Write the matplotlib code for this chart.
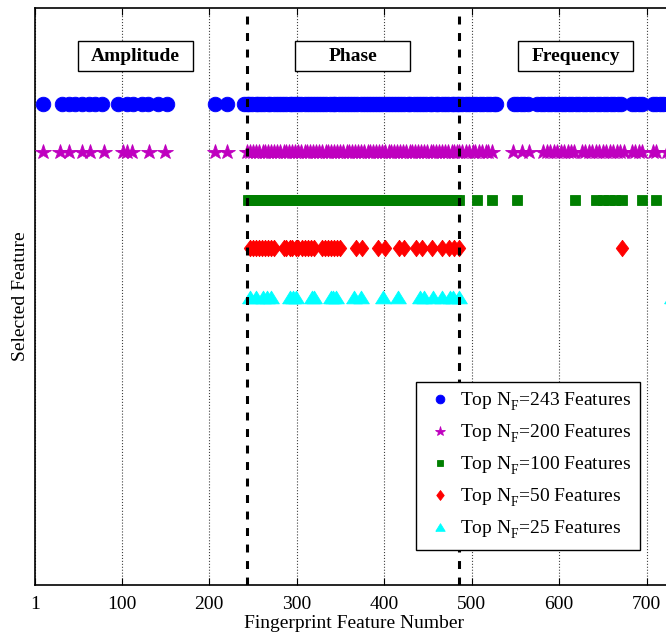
import numpy as np
import matplotlib.pyplot as plt
import matplotlib._mathtext as mathtext_impl
from matplotlib.patches import Rectangle

plt.rcParams['font.family'] = ['Liberation Serif', 'DejaVu Serif']
plt.rcParams['mathtext.fontset'] = 'custom'
plt.rcParams['mathtext.rm'] = 'Liberation Serif'
plt.rcParams['mathtext.it'] = 'Liberation Serif:italic'
# indice F plus bas, comme dans la figure d'origine
mathtext_impl.FontConstantsBase.sub1 = 0.6

# Indices des features selectionnees
top243 = [10, 32, 40, 47, 55, 63, 70, 78, 96, 106, 113, 123, 130, 141, 152, 207, 220, 240, 243,
          246, 249, 253, 256, 259, 263, 267, 270, 274, 277, 281, 284, 288, 292, 295, 298, 302, 305,
          309, 313, 316, 320, 323, 327, 330, 334, 338, 341, 344, 348, 352, 355, 359, 362, 366, 369,
          373, 377, 380, 384, 387, 391, 394, 398, 402, 405, 409, 412, 416, 419, 423, 427, 430, 434,
          437, 441, 444, 448, 452, 455, 459, 462, 466, 469, 473, 477, 480, 483, 486,
          489, 493, 497, 501, 505, 509, 513, 517, 521, 525, 528, 548, 552, 556, 560, 564, 575, 579,
          583, 587, 591, 595, 599, 603, 607, 611, 615, 619, 623, 627, 631, 635, 639, 643, 647, 651,
          655, 659, 663, 667, 671, 683, 687, 691, 695, 707, 711, 715, 719, 723, 727]
top200 = [10, 30, 40, 55, 64, 80, 102, 106, 112, 131, 150, 207, 220, 243,
          247, 250, 254, 257, 261, 264, 267, 271, 274, 278, 281, 285, 288, 291, 295, 298, 302, 305,
          309, 312, 315, 319, 322, 326, 329, 333, 336, 339, 343, 346, 350, 353, 357, 360, 363, 367,
          370, 374, 377, 381, 384, 387, 391, 394, 398, 401, 405, 408, 411, 415, 418, 422, 425, 429,
          432, 435, 439, 442, 446, 449, 453, 456, 459, 463, 466, 470, 473, 477, 480, 483, 486,
          489, 493, 497, 501, 504, 508, 512, 516, 519, 523, 547, 557, 566, 582, 586, 590, 594, 598,
          602, 606, 610, 614, 617, 626, 630, 634, 638, 642, 646, 650, 654, 658, 662, 666, 670, 674,
          683, 687, 691, 695, 707, 711, 723, 727]
top100 = [244, 248, 252, 255, 259, 263, 267, 270, 274, 278, 282, 286, 289, 293, 297, 301, 304, 308,
          312, 316, 320, 323, 327, 331, 335, 338, 342, 346, 350, 354, 357, 361, 365, 369, 372, 376,
          380, 384, 388, 391, 395, 399, 403, 406, 410, 414, 418, 422, 425, 429, 433, 437, 440, 444,
          448, 452, 456, 459, 463, 467, 471, 474, 478, 482, 486,
          506, 523, 552, 618, 642, 650, 657, 664, 672, 695, 711]
top50 = [247, 250, 253, 257, 260, 264, 267, 271, 274, 285, 288, 292, 295, 299, 302, 306, 309, 313,
         316, 320, 329, 332, 336, 339, 343, 346, 350, 368, 375, 393, 401, 417, 423, 436, 443, 455,
         466, 474, 480, 485, 672]
top25 = [247, 254, 262, 266, 271, 292, 296, 299, 317, 320, 339, 342, 345, 366, 373, 399, 416,
         441, 446, 456, 466, 475, 479, 486, 729]

series = [top243, top200, top100, top50, top25]
labels = ['Top $\\rm N_F$=243 Features', 'Top $\\rm N_F$=200 Features',
          'Top $\\rm N_F$=100 Features', 'Top $\\rm N_F$=50 Features',
          'Top $\\rm N_F$=25 Features']
xticks = [1, 100, 200, 300, 400, 500, 600, 700]
regions = ['Amplitude', 'Phase', 'Frequency']
region_centers = [116, 364, 619]
boundaries = [243, 486]

# Styles des marqueurs (facon MATLAB)
diamond = [(0, 1), (0.76, 0), (0, -1), (-0.76, 0), (0, 1)]
triangle = [(-1, -0.81), (1, -0.81), (0, 0.81), (-1, -0.81)]
styles = [dict(marker='o', color='#0000ff', ms=10.5),
          dict(marker='*', color='#bf00bf', ms=11.5),
          dict(marker='s', color='#007f00', ms=7.6),
          dict(marker=diamond, color='#ff0000', ms=11.8),
          dict(marker=triangle, color='#00ffff', ms=11.3)]

fig = plt.figure(figsize=(6.66, 6.35), dpi=100)
ax = fig.add_axes([35 / 666, 50 / 635, 637 / 666, 577 / 635])

for i, (xs, lab, st) in enumerate(zip(series, labels, styles)):
    y = np.full(len(xs), 10 - i)
    ax.plot(xs, y, linestyle='none', marker=st['marker'], ms=st['ms'],
            color=st['color'], mec=st['color'], mew=0.6, label=lab, zorder=3)

# Lignes de separation entre les regions
for b in boundaries:
    ax.axvline(b, color='black', lw=2.2, linestyle=(0, (2.6, 2.8)), zorder=5)

# Boites des noms de region
for name, c in zip(regions, region_centers):
    ax.add_patch(Rectangle((c - 65.5, 10.69), 131, 0.63, facecolor='white',
                           edgecolor='black', lw=1, zorder=4))
    ax.text(c, 11.0, name, ha='center', va='center', fontsize=14,
            fontweight='bold', zorder=6)

ax.set_xlim(1, 729)
ax.set_ylim(0, 12)
ax.set_xticks(xticks)
ax.set_xticklabels([str(t) for t in xticks], fontsize=14)
ax.set_yticks([])
ax.tick_params(axis='x', direction='in', length=5, top=True, pad=8)
ax.grid(axis='x', linestyle=':', color='#404040', lw=0.8)
ax.set_axisbelow(True)
for s in ax.spines.values():
    s.set_linewidth(1.2)

ax.set_xlabel('Fingerprint Feature Number', fontsize=14, labelpad=1)
ax.set_ylabel('Selected Feature', fontsize=14, labelpad=4)

leg = ax.legend(loc='lower right', bbox_to_anchor=(640 / 666, 85 / 635),
                bbox_transform=fig.transFigure, fontsize=14, numpoints=1,
                markerscale=0.6, fancybox=False, framealpha=1, edgecolor='black',
                handlelength=1.5, handletextpad=0.3, borderpad=0.45,
                labelspacing=0.5, borderaxespad=0)
leg.get_frame().set_linewidth(1)

fig.savefig('out.png', dpi=100)
